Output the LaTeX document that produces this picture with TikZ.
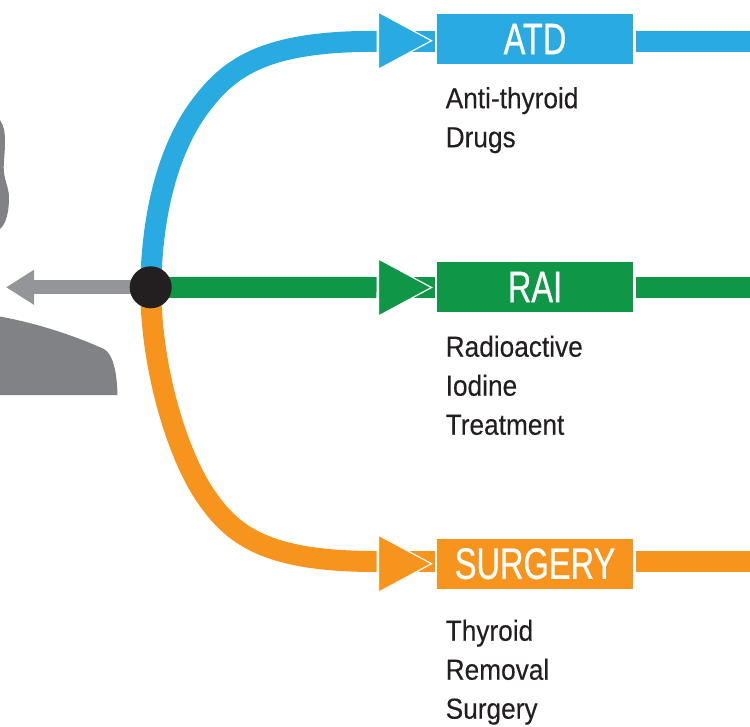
\documentclass[tikz,border=0pt]{standalone}
\usepackage{fontspec}
\usetikzlibrary{arrows.meta,backgrounds,shapes.geometric}
\setmainfont[FakeStretch=0.905,FakeBold=0.25]{Liberation Sans}
\newfontfamily\headfont[FakeStretch=0.74,FakeBold=0.6]{Liberation Sans}

\definecolor{atdblue}{HTML}{29ABE2}
\definecolor{raigreen}{HTML}{0F9647}
\definecolor{surgorange}{HTML}{F7941E}
\definecolor{hubblack}{HTML}{231F20}
\definecolor{persongray}{HTML}{808285}
\definecolor{arrowgray}{HTML}{939598}

\tikzset{
  headbox/.style={rectangle, draw=none, inner sep=0, outer sep=0, minimum width=196pt,
    minimum height=50pt, text=white, font=\headfont\fontsize{44}{44}\selectfont},
  tipmark/.style={isosceles triangle, isosceles triangle stretches, shape border rotate=0,
    draw=white, line width=1.2pt, inner sep=0, outer sep=0, minimum width=57pt,
    minimum height=53pt, anchor=lower side},
  sublabel/.style={anchor=north west, inner sep=0, align=left, text=hubblack,
    font=\fontsize{29}{39}\selectfont},
  trackline/.style={line width=21pt}
}

\begin{document}
\begin{tikzpicture}[x=1pt,y=-1pt]
  \useasboundingbox (0,0) rectangle (750,726);

  % person
  \fill[persongray] (0,120) .. controls (4,126) and (5,132) .. (5,142)
    .. controls (5,155) and (3,165) .. (4,172) .. controls (5,182) and (9,188) .. (9,198)
    .. controls (9,212) and (6,224) .. (0,229) -- cycle;
  \fill[persongray] (0,316.5) .. controls (40,324) and (75,336) .. (104,349)
    .. controls (113,354) and (117,372) .. (117.5,395) -- (0,395) -- cycle;

  \node (hub) at (150.7,287.3) [circle, fill=hubblack, inner sep=0, outer sep=0, minimum size=42pt] {};

  \node (atd)     at (535,39)    [headbox, fill=atdblue] {ATD};
  \node (rai)     at (535,287)   [headbox, fill=raigreen] {RAI};
  \node (surgery) at (535,563.7) [headbox, fill=surgorange] {SURGERY};

  \node (atdtip)  at (378.5,40.7)  [tipmark, fill=atdblue] {};
  \node (raitip)  at (378.5,287.5) [tipmark, fill=raigreen] {};
  \node (surgtip) at (378.5,563.7) [tipmark, fill=surgorange] {};

  \node (atdtext)  at (445.5,87)  [sublabel] {Anti-thyroid\\Drugs};
  \node (raitext)  at (445.5,335.5)   [sublabel] {Radioactive\\Iodine\\Treatment};
  \node (surgtext) at (445.5,619.5)   [sublabel] {Thyroid\\Removal\\Surgery};

  \coordinate (atdend)  at (750,41.3);
  \coordinate (raiend)  at (750,287.5);
  \coordinate (surgend) at (750,561.5);
  \coordinate (arrowend) at (6,287.3);

  \begin{scope}[on background layer]
    \draw[arrowgray, line width=14pt, -{Triangle[length=28pt,width=33pt]}] (hub.center) -- (arrowend);

    \draw[atdblue, trackline] (hub.center) .. controls (152,205) and (172,140) .. (205,100)
      .. controls (235,62) and (275,41.3) .. (376,41.3)
      -- ([xshift=-2pt]atdtip.lower side |- atdend);
    \draw[atdblue, trackline] (atdtip.center |- atdend) -- ([xshift=-2pt]atd.west |- atdend);
    \draw[atdblue, trackline] ([xshift=3pt]atd.east |- atdend) -- (atdend);

    \draw[raigreen, trackline] (hub.center) -- ([xshift=-2pt]raitip.lower side |- raiend);
    \draw[raigreen, trackline] (raitip.center |- raiend) -- ([xshift=-2pt]rai.west |- raiend);
    \draw[raigreen, trackline] ([xshift=3pt]rai.east |- raiend) -- (raiend);

    \draw[surgorange, trackline] (hub.center) .. controls (151,370) and (178,455) .. (205,495)
      .. controls (232,535) and (265,561.5) .. (376,561.5)
      -- ([xshift=-2pt]surgtip.lower side |- surgend);
    \draw[surgorange, trackline] (surgtip.center |- surgend) -- ([xshift=-2pt]surgery.west |- surgend);
    \draw[surgorange, trackline] ([xshift=3pt]surgery.east |- surgend) -- (surgend);
  \end{scope}

\end{tikzpicture}
\end{document}
